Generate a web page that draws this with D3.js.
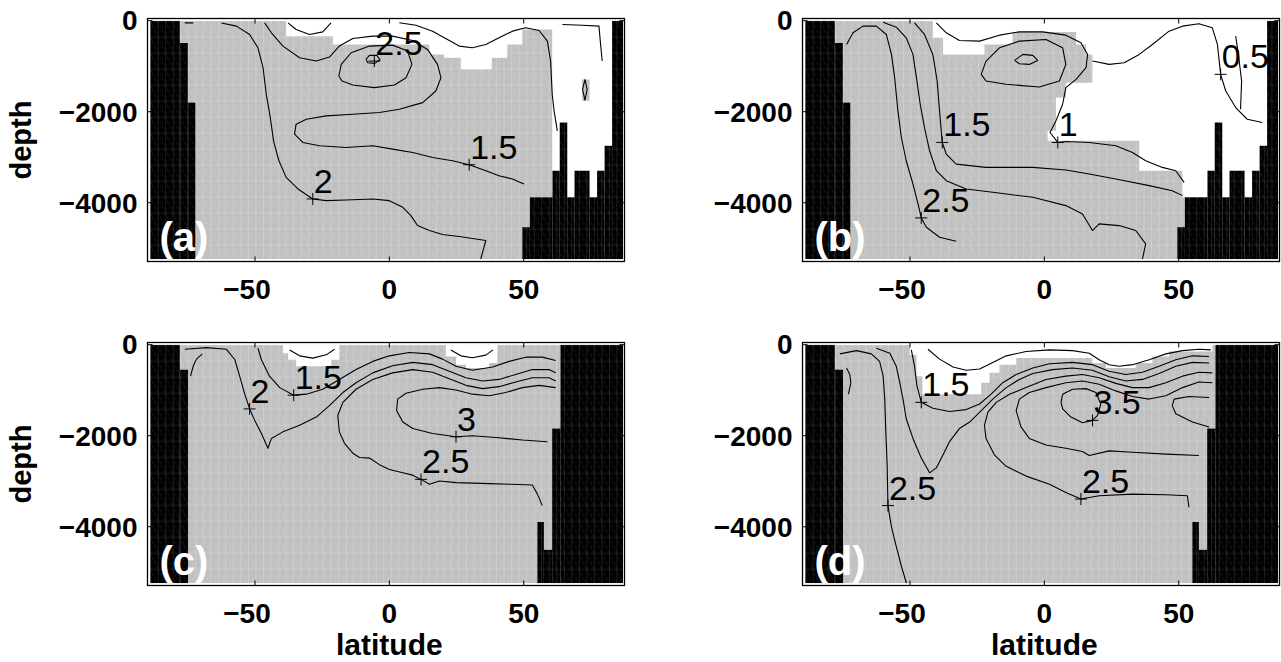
<!DOCTYPE html>
<html>
<head>
<meta charset="utf-8">
<script src="https://d3js.org/d3.v7.min.js"></script>
<style>
  body { margin: 0; background: #fff; }
  svg { display: block; }
  text { font-family: "Liberation Sans", Arial, Helvetica, sans-serif; }
</style>
</head>
<body>
<svg id="chart" width="1281" height="662"></svg>
<script>
// ---------------- axes ----------------
const latTicks = [-50, 0, 50];
const depthTicks = [0, -2000, -4000];
const latDomain = [-90, 87.5];
const depthDomain = [-5290, 48];
const gridLat = [-89, 87];        // extent of the model grid
const gridDepth = [-5240, 0];

// ---------------- bathymetry: [lat from, lat to, sea-floor depth] ----------------
const landAtlantic = [
  [-89, -78, 0], [-78, -75, -490], [-75, -72.2, -1800],
  [49.5, 52.3, -4537], [52.3, 60.7, -3880], [60.7, 63.4, -3296], [63.4, 66.2, -2237],
  [66.2, 68.9, -3880], [68.9, 74.5, -3296], [74.5, 77.3, -3880], [77.3, 80.1, -3296],
  [80.1, 82.9, -2748], [82.9, 87, 0]
];
const landPacific = [
  [-89, -78, 0], [-78, -74.9, -550],
  [55.1, 57.5, -3895], [57.5, 60.6, -4507], [60.6, 63.7, -1843], [63.7, 87, 0]
];

// ---------------- undefined (blank) regions ----------------
const blankA = [[
  [-38.4, 0], [-38.4, -340], [-21.0, -340], [-21.0, -522], [14.9, -522], [14.9, -741],
  [20.4, -741], [20.4, -814], [26.6, -814], [26.6, -1069], [38.1, -1069], [38.1, -814],
  [43.9, -814], [43.9, -522], [49.5, -522], [49.5, -193], [60.6, -193], [60.6, -3880],
  [82.9, -3880], [82.9, 0]
]];
const filledA = [[[71.7, -1290], [74.5, -1290], [74.5, -1760], [71.7, -1760]]];
const blankB = [[
  [-41.5, 0], [-41.5, -376], [-37.7, -376], [-37.7, -741], [-22.3, -741], [-22.3, -522],
  [-11.8, -522], [-11.8, -250], [11.8, -250], [11.8, -522], [15.5, -522], [15.5, -741],
  [17.9, -741], [17.9, -1361], [8.0, -1361], [8.0, -1690], [4.3, -1690], [4.3, -2420],
  [1.2, -2420], [1.2, -2639], [35.3, -2639], [35.3, -3296], [51.4, -3296], [51.4, -3880],
  [82.9, -3880], [82.9, 0]
]];
const blankC = [
  [[-39.6, 0], [-39.6, -187], [-37.7, -187], [-37.7, -331], [-34.7, -331], [-34.7, -475],
   [-21.7, -475], [-21.7, -331], [-18.6, -331], [-18.6, 0]],
  [[21.0, 0], [21.0, -259], [24.8, -259], [24.8, -439], [28.5, -439], [28.5, -511],
   [37.1, -511], [37.1, -403], [40.2, -403], [40.2, 0]]
];
const blankD = [[
  [-50.1, 0], [-50.1, -223], [-47.6, -223], [-47.6, -691], [-45.4, -691], [-45.4, -1087],
  [-23.5, -1087], [-23.5, -835], [-20.4, -835], [-20.4, -619], [-16.7, -619], [-16.7, -439],
  [-10.5, -439], [-10.5, -295], [17.9, -295], [17.9, -403], [22.9, -403], [22.9, -511],
  [34.0, -511], [34.0, -403], [40.2, -403], [40.2, -259], [46.4, -259], [46.4, -151],
  [62.5, -151], [62.5, 0]
]];

// ---------------- contour lines [lat, depth] ----------------
const contoursA = [
  [[-62.5,-50],[-56.9,-120],[-52.0,-303],[-48.9,-595],[-47.0,-1033],[-45.8,-1617],[-44.3,-2128],
   [-43.1,-2639],[-41.1,-3077],[-38.4,-3442],[-34.0,-3697],[-28.5,-3916],[-23.5,-3953],[-16.1,-3938],
   [-6.2,-3916],[0,-3953],[5.0,-4099],[8.0,-4281],[10.5,-4500],[14.9,-4610],[19.8,-4698],[26.0,-4742],
   [35.9,-4829],[34.0,-5235]],
  [[50.1,-3588],[45.8,-3478],[40.8,-3405],[35.9,-3296],[29.7,-3165],[23.5,-3077],[16.1,-3004],
   [8.7,-2894],[1.2,-2821],[-6.2,-2748],[-16.1,-2785],[-26.0,-2748],[-32.2,-2675],[-35.3,-2493],
   [-34.7,-2274],[-30.9,-2164],[-23.5,-2091],[-13.6,-2055],[-3.7,-2018],[3.7,-1945],[12.4,-1800],
   [17.3,-1545],[19.2,-1252],[17.9,-960],[14.2,-631],[8.7,-434],[1.2,-340],[-6.2,-340],[-13.6,-391],
   [-18.6,-558],[-22.3,-799],[-27.2,-887],[-33.4,-814],[-39.6,-558],[-43.9,-266],[-46.4,-47]],
  [[-18.8,-1215],[-17.9,-960],[-14.2,-704],[-7.4,-558],[1.2,-537],[6.8,-668],[8.4,-960],[6.2,-1252],
   [1.9,-1412],[-5.6,-1471],[-13.6,-1412],[-17.6,-1325],[-18.8,-1215]],
  [[-8.7,-851],[-7.4,-763],[-4.7,-763],[-3.5,-858],[-5.4,-938],[-8.0,-923],[-8.7,-851]],
  [[-76.1,-47],[-73.0,-47]],
  [[-37.7,-47],[-34.7,-193],[-29.7,-303],[-24.8,-245],[-21.7,-47]],
  [[3.7,-47],[9.9,-99],[16.1,-230],[22.3,-434],[26.0,-558],[30.9,-595],[35.9,-522],[40.8,-376],
   [45.8,-230],[50.7,-157],[55.7,-215],[58.8,-449],[60.0,-887],[60.6,-1617],[61.3,-1982],[62.5,-2420]],
  [[64.4,-84],[71.8,-99],[78.0,-120],[78.6,-522],[79.2,-887]],
  [[72.8,-1288],[73.6,-1507],[72.8,-1748],[71.9,-1507],[72.8,-1288]]
];
const labelsA = [
  { text: "2.5", at: [-5.6, -887] },
  { text: "1.5", at: [29.7, -3165] },
  { text: "2",   at: [-28.5, -3916] }
];

const contoursB = [
  [[-73.6,-522],[-71.2,-266],[-67.5,-120],[-62.5,-120],[-58.8,-303],[-56.9,-741],[-55.7,-1252],
   [-54.5,-1982],[-53.2,-2566],[-51.4,-3077],[-48.9,-3588],[-47.0,-4026],[-45.8,-4333],[-43.9,-4537],
   [-39.0,-4756],[-32.8,-4844]],
  [[-60.0,-33],[-55.1,-142],[-51.4,-376],[-48.9,-741],[-47.6,-1252],[-46.2,-1836],[-44.6,-2347],
   [-42.7,-2858],[-40.2,-3296],[-36.5,-3515],[-29.1,-3697],[-19.2,-3770],[-4.3,-3880],[8.0,-4062],
   [14.2,-4245],[17.9,-4610],[20.4,-4464],[27.8,-4501],[34.0,-4610],[37.7,-4902],[36.5,-5235]],
  [[-48.3,-47],[-44.6,-303],[-41.5,-741],[-39.9,-1325],[-39.0,-1982],[-38.0,-2675],[-36.5,-2931],
   [-32.8,-3150],[-21.7,-3223],[-4.3,-3223],[8.0,-3281],[16.7,-3369],[26.6,-3478],[39.0,-3624],
   [47.6,-3734],[51.4,-3843]],
  [[-40.2,-47],[-36.5,-266],[-31.6,-434],[-24.1,-449],[-16.7,-318],[-9.3,-245],[-0.6,-245],
   [8.0,-318],[13.6,-485],[16.1,-741],[15.5,-1033],[11.8,-1288],[8.0,-1471],[6.8,-1836],[4.3,-2201],
   [2.1,-2456],[5.0,-2675],[8.0,-2653],[16.7,-2675],[26.6,-2748],[32.8,-2894],[37.7,-3077],
   [43.9,-3223],[48.9,-3296],[52.0,-3551]],
  [[-23.5,-1179],[-21.7,-887],[-16.7,-595],[-9.3,-449],[0.6,-412],[6.8,-595],[8.0,-960],[5.6,-1325],
   [-1.9,-1456],[-14.2,-1398],[-21.7,-1325],[-23.5,-1179]],
  [[-11.1,-872],[-8.0,-741],[-4.3,-763],[-2.5,-872],[-5.6,-960],[-9.3,-945],[-11.1,-872]],
  [[17.9,-887],[24.1,-960],[29.7,-923],[35.3,-741],[40.2,-522],[46.4,-230],[51.4,-120],[57.5,-69],
   [62.5,-157],[64.4,-522],[65.2,-960],[65.6,-1179],[67.5,-1544],[71.2,-1909],[75.5,-2165],[81.1,-2237]],
  [[71.2,-340],[72.2,-741],[73.4,-1325],[73.0,-1945]]
];
const labelsB = [
  { text: "2.5", at: [-45.8, -4333] },
  { text: "1.5", at: [-38.0, -2675] },
  { text: "1",   at: [5.0, -2675] },
  { text: "0.5", at: [65.6, -1179] }
];

const contoursC = [
  [[-74.0,-691],[-73.0,-475],[-71.8,-317],[-69.6,-202]],
  [[-37.1,-115],[-33.4,-245],[-28.5,-295],[-23.5,-223],[-20.4,-101]],
  [[22.9,-115],[26.6,-245],[30.9,-288],[35.9,-230],[38.6,-115]],
  [[-76.1,-101],[-68.1,-65],[-60.6,-101],[-57.5,-331],[-55.7,-691],[-53.8,-1087],[-52.0,-1411],
   [-50.1,-1663],[-47.6,-1951],[-45.2,-2275],[-43.9,-2059],[-39.6,-1915],[-33.4,-1771],[-27.2,-1591],
   [-22.3,-1339],[-17.3,-1051],[-12.4,-835],[-6.2,-619],[1.2,-461],[8.7,-389],[16.1,-439],[22.3,-583],
   [28.5,-727],[34.7,-799],[40.8,-763],[47.0,-655],[53.2,-547],[59.4,-547],[61.9,-619]],
  [[-48.9,-79],[-47.6,-331],[-44.6,-691],[-40.8,-943],[-35.6,-1109],[-30.9,-1087],[-24.8,-979],
   [-18.6,-763],[-12.4,-547],[-6.2,-367],[0,-245],[7.4,-173],[14.9,-202],[19.8,-317],[24.8,-475],
   [30.9,-562],[38.4,-490],[44.6,-367],[50.7,-274],[56.9,-274],[61.9,-346]],
  [[56.9,-3535],[55.1,-3283],[53.2,-3082],[45.8,-3067],[37.1,-3053],[24.8,-3031],[18.6,-2995],
   [14.9,-3067],[11.8,-2959],[8.7,-2866],[5.0,-2815],[0,-2743],[-3.7,-2635],[-7.4,-2491],[-11.1,-2477],
   [-13.6,-2383],[-16.7,-2167],[-18.6,-1915],[-19.2,-1555],[-17.3,-1267],[-12.4,-979],[-6.2,-763],
   [1.2,-619],[8.7,-547],[16.1,-605],[22.3,-749],[28.5,-893],[34.7,-965],[40.8,-922],[47.0,-821],
   [53.2,-727],[59.4,-727],[61.9,-799]],
  [[58.8,-2131],[49.5,-2095],[40.8,-2045],[30.9,-2002],[24.8,-2023],[16.1,-1951],[8.7,-1843],
   [5.0,-1699],[2.7,-1447],[3.1,-1195],[6.2,-1066],[12.4,-979],[18.6,-943],[24.8,-994],[30.9,-1087],
   [37.1,-1123],[43.3,-1051],[49.5,-943],[55.7,-893],[61.9,-943]]
];
const labelsC = [
  { text: "2",   at: [-52.0, -1411] },
  { text: "1.5", at: [-35.6, -1109] },
  { text: "3",   at: [24.8, -2023] },
  { text: "2.5", at: [11.8, -2959] }
];

const contoursD = [
  [[-73.6,-511],[-72.4,-655],[-72.0,-835],[-72.9,-1087]],
  [[-43.3,-101],[-39.0,-317],[-34.0,-490],[-29.1,-562],[-24.1,-533],[-19.2,-389],[-14.2,-245],
   [-6.8,-151],[1.9,-115],[10.5,-130],[16.7,-187],[20.4,-331],[24.1,-439],[27.8,-475],[32.8,-439],
   [39.0,-331],[45.2,-202],[51.4,-130],[57.5,-101],[61.9,-115]],
  [[-76.1,-202],[-69.9,-130],[-64.4,-202],[-61.3,-367],[-60.0,-691],[-59.4,-1195],[-59.0,-1915],
   [-58.5,-2635],[-58.2,-3535],[-56.9,-4003],[-55.1,-4435],[-53.2,-4867],[-51.3,-5240]],
  [[-62.5,-79],[-57.5,-187],[-55.1,-475],[-53.8,-835],[-52.6,-1195],[-51.4,-1627],[-48.9,-2059],
   [-45.8,-2491],[-42.7,-2815],[-40.2,-2707],[-37.7,-2419],[-35.3,-2131],[-31.6,-1843],[-27.8,-1699],
   [-23.5,-1447],[-19.2,-1195],[-14.2,-943],[-9.3,-763],[-4.3,-634],[3.1,-547],[10.5,-511],
   [17.9,-562],[24.1,-706],[30.3,-799],[36.5,-763],[42.7,-634],[48.9,-475],[55.1,-389],[61.3,-403]],
  [[-49.5,-115],[-48.3,-475],[-47.4,-907],[-45.8,-1267],[-41.5,-1397],[-35.3,-1469],[-29.1,-1426],
   [-24.1,-1303],[-19.8,-1087],[-15.5,-835],[-10.5,-655],[-4.3,-511],[1.9,-418],[10.5,-389],
   [17.9,-439],[24.1,-583],[30.3,-655],[36.5,-605],[42.7,-475],[48.9,-331],[55.1,-245],[61.3,-259]],
  [[53.8,-3571],[53.2,-3319],[45.2,-3298],[32.8,-3283],[20.4,-3319],[13.6,-3391],[8.0,-3247],
   [1.9,-3067],[-6.8,-2887],[-14.2,-2671],[-18.6,-2419],[-21.7,-2059],[-22.3,-1771],[-21.0,-1483],
   [-17.9,-1267],[-13.0,-1087],[-6.8,-943],[0.6,-763],[8.0,-691],[14.2,-655],[20.4,-727],[26.6,-850],
   [32.8,-943],[39.0,-943],[45.2,-835],[51.4,-691],[57.5,-605],[62.5,-619]],
  [[57.5,-2434],[45.2,-2405],[32.8,-2362],[24.1,-2333],[16.7,-2434],[14.2,-2347],[8.0,-2275],
   [0.6,-2203],[-5.6,-2059],[-8.7,-1807],[-10.5,-1447],[-9.3,-1195],[-5.6,-1051],[0.6,-943],
   [8.0,-835],[14.2,-799],[20.4,-871],[26.6,-1015],[32.8,-1138],[39.0,-1195],[45.2,-1123],
   [51.4,-943],[57.5,-821],[62.5,-835]],
  [[6.2,-1267],[6.8,-1087],[10.5,-979],[15.5,-965],[19.2,-1051],[21.0,-1303],[19.8,-1555],
   [17.9,-1663],[14.2,-1714],[9.9,-1591],[6.8,-1411],[6.2,-1267]],
  [[61.3,-1159],[53.8,-1138],[48.3,-1195],[47.6,-1339],[48.9,-1519],[55.1,-1699],[61.3,-1807]]
];
const labelsD = [
  { text: "1.5", at: [-45.8, -1267] },
  { text: "3.5", at: [17.9, -1663] },
  { text: "2.5", at: [-58.2, -3535] },
  { text: "2.5", at: [13.6, -3391] }
];

const panelLetters = ["(a)", "(b)", "(c)", "(d)"];

// ---------------- page layout ----------------
const boxes = [
  { x0: 147.5, x1: 624.5, y0: 18.5, y1: 261.5 },
  { x0: 802.5, x1: 1279.5, y0: 18.5, y1: 261.5 },
  { x0: 147.5, x1: 624.5, y0: 342.5, y1: 585.5 },
  { x0: 802.5, x1: 1279.5, y0: 342.5, y1: 585.5 }
];
const panels = [
  { land: landAtlantic, blank: blankA, filled: filledA, lines: contoursA, labels: labelsA, ylab: true,  xlab: false },
  { land: landAtlantic, blank: blankB, filled: [],      lines: contoursB, labels: labelsB, ylab: false, xlab: false },
  { land: landPacific,  blank: blankC, filled: [],      lines: contoursC, labels: labelsC, ylab: true,  xlab: true },
  { land: landPacific,  blank: blankD, filled: [],      lines: contoursD, labels: labelsD, ylab: false, xlab: true }
];

const svg = d3.select("#chart");
const defs = svg.append("defs");

// cell texture of the shaded grid (mesh edges of the rendered cells)
function cellPattern(id, base, edge, ox, oy) {
  const w = 7.52, h = 16;
  const p = defs.append("pattern").attr("id", id)
    .attr("patternUnits", "userSpaceOnUse")
    .attr("x", ox).attr("y", oy).attr("width", w).attr("height", h);
  p.append("rect").attr("width", w).attr("height", h).attr("fill", base);
  p.append("path").attr("d", `M0.3,0V${h}`).attr("stroke", edge).attr("stroke-width", 0.6);
  p.append("path").attr("d", `M0,0.3H${w}`).attr("stroke", edge).attr("stroke-width", 0.5);
  p.append("path").attr("d", `M0,0L${w},${h}`).attr("stroke", edge).attr("stroke-width", 0.5)
    .attr("stroke-dasharray", "3,2");
}

const fmt = v => (v < 0 ? "\u2212" + Math.abs(v) : String(v));

panels.forEach((pn, i) => {
  const b = boxes[i];
  const x = d3.scaleLinear().domain(latDomain).range([b.x0, b.x1]);
  const y = d3.scaleLinear().domain(depthDomain).range([b.y1, b.y0]);
  const line = d3.line().x(d => x(d[0])).y(d => y(d[1]));

  cellPattern("gp" + i, "#c0c0c0", "#d8d8d8", x(gridLat[0]), y(gridDepth[1]));
  cellPattern("bp" + i, "#000000", "#3c3c3c", x(gridLat[0]), y(gridDepth[1]));

  const clipId = "clip" + i;
  defs.append("clipPath").attr("id", clipId).append("rect")
    .attr("x", x(gridLat[0])).attr("y", y(gridDepth[1]))
    .attr("width", x(gridLat[1]) - x(gridLat[0]))
    .attr("height", y(gridDepth[0]) - y(gridDepth[1]));

  const g = svg.append("g");
  const field = g.append("g").attr("clip-path", `url(#${clipId})`);

  // ocean cells
  field.append("rect")
    .attr("x", x(gridLat[0])).attr("y", y(gridDepth[1]))
    .attr("width", x(gridLat[1]) - x(gridLat[0]))
    .attr("height", y(gridDepth[0]) - y(gridDepth[1]))
    .attr("fill", `url(#gp${i})`);

  // undefined cells
  field.selectAll("path.blank").data(pn.blank).join("path")
    .attr("class", "blank").attr("d", d => line(d) + "Z").attr("fill", "#fff");
  field.selectAll("path.filled").data(pn.filled).join("path")
    .attr("class", "filled").attr("d", d => line(d) + "Z").attr("fill", `url(#gp${i})`);

  // land / below the sea floor
  field.selectAll("rect.land").data(pn.land).join("rect")
    .attr("class", "land")
    .attr("x", d => x(d[0])).attr("width", d => x(d[1]) - x(d[0]))
    .attr("y", d => y(d[2])).attr("height", d => y(gridDepth[0]) - y(d[2]))
    .attr("fill", `url(#bp${i})`);

  // contour lines
  field.selectAll("path.iso").data(pn.lines).join("path")
    .attr("class", "iso").attr("d", line)
    .attr("fill", "none").attr("stroke", "#000").attr("stroke-width", 1.1)
    .attr("stroke-linejoin", "round");

  // contour labels
  pn.labels.forEach(l => {
    const px = x(l.at[0]), py = y(l.at[1]);
    g.append("path").attr("d", `M${px - 6},${py}H${px + 6}M${px},${py - 6}V${py + 6}`)
      .attr("stroke", "#000").attr("stroke-width", 1);
    g.append("text").attr("x", px + 1).attr("y", py - 6)
      .attr("font-size", 34).attr("fill", "#000").text(l.text);
  });

  // panel letter
  g.append("text").attr("x", b.x0 + 12).attr("y", b.y1 - 11)
    .attr("font-size", 40).attr("font-weight", "bold").attr("fill", "#fff")
    .text(panelLetters[i]);

  // frame and ticks
  g.append("rect").attr("x", b.x0).attr("y", b.y0)
    .attr("width", b.x1 - b.x0).attr("height", b.y1 - b.y0)
    .attr("fill", "none").attr("stroke", "#000").attr("stroke-width", 1.3);
  latTicks.forEach(t => {
    g.append("path").attr("d", `M${x(t)},${b.y1}v-5M${x(t)},${b.y0}v5`)
      .attr("stroke", "#000").attr("stroke-width", 1);
    g.append("text").attr("x", x(t)).attr("y", b.y1 + 37.5)
      .attr("text-anchor", "middle").attr("dx", t < 0 ? -8 : 0)
      .attr("font-size", 28).attr("font-weight", "bold").text(fmt(t));
  });
  depthTicks.forEach(t => {
    g.append("path").attr("d", `M${b.x0},${y(t)}h5M${b.x1},${y(t)}h-5`)
      .attr("stroke", "#000").attr("stroke-width", 1);
    g.append("text").attr("x", b.x0 - 10).attr("y", y(t)).attr("dy", "0.35em")
      .attr("text-anchor", "end")
      .attr("font-size", 28).attr("font-weight", "bold").text(fmt(t));
  });

  if (pn.ylab) {
    g.append("text")
      .attr("transform", `translate(31,${(b.y0 + b.y1) / 2}) rotate(-90)`)
      .attr("text-anchor", "middle")
      .attr("font-size", 29).attr("font-weight", "bold").text("depth");
  }
  if (pn.xlab) {
    g.append("text").attr("x", x(0)).attr("y", 655)
      .attr("text-anchor", "middle")
      .attr("font-size", 30).attr("font-weight", "bold").text("latitude");
  }
});
</script>
</body>
</html>
